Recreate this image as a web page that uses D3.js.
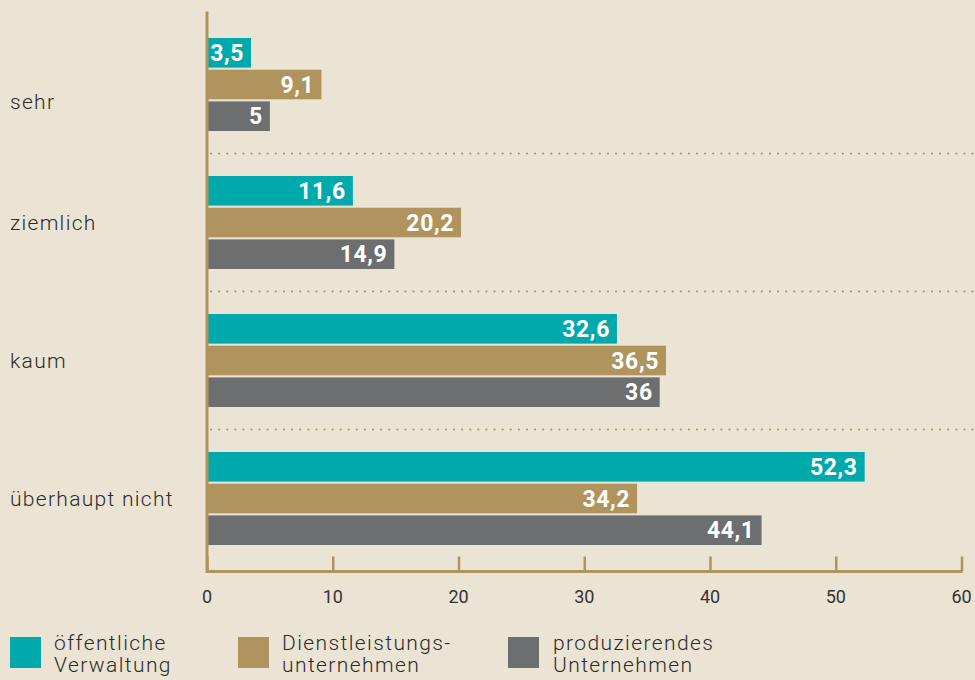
<!DOCTYPE html>
<html>
<head>
<meta charset="utf-8">
<script src="https://cdn.jsdelivr.net/npm/d3@7"></script>
<style>
  body { margin: 0; background: #ebe4d5; }
  svg { display: block; font-family: Roboto, "Liberation Sans", sans-serif; }
  .light { font-weight: 300; }
</style>
</head>
<body>
<div id="chart"></div>
<script>
const svgWidth = 975;
const svgHeight = 680;

// data
const categories = ["sehr", "ziemlich", "kaum", "überhaupt nicht"];
const seriesNames = ["öffentliche Verwaltung", "Dienstleistungs-unternehmen", "produzierendes Unternehmen"];
const legendLines = [["öffentliche", "Verwaltung"], ["Dienstleistungs-", "unternehmen"], ["produzierendes", "Unternehmen"]];
const verwaltung = [3.5, 11.6, 32.6, 52.3];
const dienstleistung = [9.1, 20.2, 36.5, 34.2];
const produzierend = [5, 14.9, 36, 44.1];
const xTicks = [0, 10, 20, 30, 40, 50, 60];

const colors = ["#00a9ac", "#b0945e", "#6d6e70"];
const axisColor = "#b0945e";

const margin = { top: 15.5, right: 13, bottom: 112.5, left: 207 };
const chartWidth = svgWidth - margin.left - margin.right;
const chartHeight = svgHeight - margin.top - margin.bottom;

const svg = d3.select("#chart")
    .append("svg")
    .attr("width", svgWidth)
    .attr("height", svgHeight);

svg.append("rect")
    .attr("width", svgWidth)
    .attr("height", svgHeight)
    .attr("fill", "#ebe4d5");

const chartGroup = svg.append("g")
    .attr("transform", `translate(${margin.left}, ${margin.top})`);

// rows: one object per category
const rows = categories.map((c, i) => ({
    cat: c,
    values: [verwaltung[i], dienstleistung[i], produzierend[i]]
}));

const xScale = d3.scaleLinear()
    .domain([0, 60])
    .range([0, chartWidth - 0.5]);

const yScale = d3.scaleBand()
    .domain(categories)
    .range([0, chartHeight])
    .paddingInner(0.326)
    .paddingOuter(0.163);

const innerScale = d3.scaleBand()
    .domain(d3.range(seriesNames.length))
    .range([0, yScale.bandwidth()])
    .paddingInner(0.066);

// dotted separators between groups
const gap = yScale.step() - yScale.bandwidth();
chartGroup.selectAll(".sep")
    .data(categories.slice(0, -1))
    .enter()
    .append("line")
    .attr("x1", 4)
    .attr("x2", svgWidth - margin.left)
    .attr("y1", d => yScale(d) + yScale.bandwidth() + gap / 2)
    .attr("y2", d => yScale(d) + yScale.bandwidth() + gap / 2)
    .attr("stroke", axisColor)
    .attr("stroke-width", 2.2)
    .attr("stroke-linecap", "round")
    .attr("stroke-dasharray", "0.1,8");

// bars
const groups = chartGroup.selectAll(".grp")
    .data(rows)
    .enter()
    .append("g")
    .attr("transform", d => `translate(0, ${yScale(d.cat)})`);

groups.selectAll("rect")
    .data(d => d.values)
    .enter()
    .append("rect")
    .attr("x", xScale(0))
    .attr("y", (d, i) => innerScale(i))
    .attr("width", d => xScale(d) - xScale(0))
    .attr("height", innerScale.bandwidth())
    .attr("fill", (d, i) => colors[i]);

groups.selectAll(".val")
    .data(d => d.values)
    .enter()
    .append("text")
    .attr("x", d => xScale(d) - 7)
    .attr("y", (d, i) => innerScale(i) + innerScale.bandwidth() / 2)
    .attr("dy", "0.36em")
    .attr("text-anchor", "end")
    .attr("fill", "#fff")
    .attr("font-size", 23)
    .attr("font-weight", 700)
    .attr("letter-spacing", 0.6)
    .text(d => String(d).replace(".", ","));

// category labels
svg.selectAll(".cat")
    .data(categories)
    .enter()
    .append("text")
    .attr("class", "light")
    .attr("x", 10)
    .attr("y", (d, i) => margin.top + yScale(d) + yScale.bandwidth() / 2 + (i === 0 ? 17 : 0))
    .attr("dy", "0.35em")
    .attr("fill", "#2b2b2b")
    .attr("font-size", 21)
    .attr("letter-spacing", 1.3)
    .text(d => d);

// x axis
const xAxis = chartGroup.append("g")
    .attr("transform", `translate(0, ${chartHeight + 4})`)
    .call(d3.axisTop(xScale).tickValues(xTicks).tickSize(15).tickFormat(""));
xAxis.select(".domain").remove();
xAxis.selectAll("line")
    .attr("stroke", axisColor)
    .attr("stroke-width", 2.5);
xAxis.append("line")
    .attr("x1", -1)
    .attr("x2", xScale(60) + 1)
    .attr("stroke", axisColor)
    .attr("stroke-width", 3);

chartGroup.selectAll(".tick-label")
    .data(xTicks)
    .enter()
    .append("text")
    .attr("x", d => xScale(d))
    .attr("y", chartHeight + 29)
    .attr("dy", "0.35em")
    .attr("text-anchor", "middle")
    .attr("fill", "#333")
    .attr("font-size", 18)
    .text(d => d);

// y axis line
chartGroup.append("line")
    .attr("x1", 0)
    .attr("x2", 0)
    .attr("y1", -4)
    .attr("y2", chartHeight + 5.5)
    .attr("stroke", axisColor)
    .attr("stroke-width", 3);

// legend
const legendX = [10, 238, 508];
const legend = svg.selectAll(".legend")
    .data(seriesNames)
    .enter()
    .append("g")
    .attr("transform", (d, i) => `translate(${legendX[i]}, 637)`);

legend.append("rect")
    .attr("width", 31)
    .attr("height", 31)
    .attr("fill", (d, i) => colors[i]);

legend.append("text")
    .attr("class", "light")
    .attr("x", (d, i) => i === 2 ? 45 : 44)
    .attr("y", 13)
    .attr("fill", "#2b2b2b")
    .attr("font-size", 21)
    .attr("letter-spacing", 1.4)
    .selectAll("tspan")
    .data((d, i) => legendLines[i])
    .enter()
    .append("tspan")
    .attr("x", function() { return d3.select(this.parentNode).attr("x"); })
    .attr("dy", (d, j) => j === 0 ? 0 : 22)
    .text(d => d);
</script>
</body>
</html>
